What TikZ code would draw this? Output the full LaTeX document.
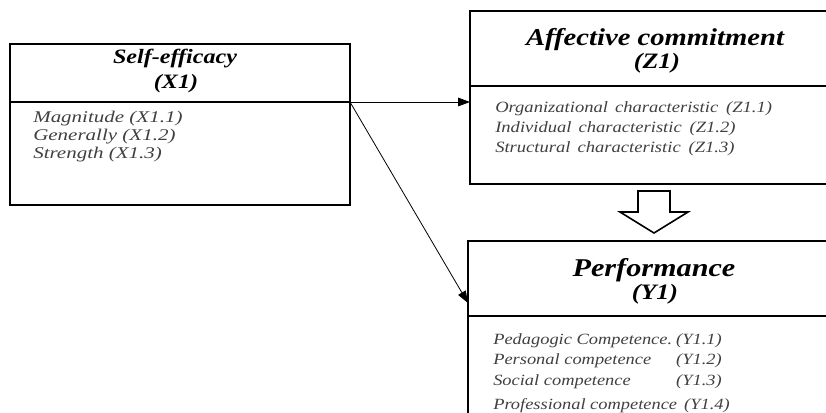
\documentclass[tikz,border=0pt]{standalone}
\usepackage{fontspec}
\setmainfont{Liberation Serif}
\newfontfamily\widefont[FakeStretch=1.18]{Liberation Serif}
\newfontfamily\widerfont[FakeStretch=1.28]{Liberation Serif}
\usetikzlibrary{arrows.meta}
\definecolor{bodygray}{gray}{0.25}
\tikzset{
  px/.style={x=0.75pt,y=-0.75pt},
  boxframe/.style={draw,line width=1.4pt,inner sep=0pt,outer sep=0pt,anchor=north west},
  divider/.style={line width=1.4pt},
  conn/.style={line width=0.6pt,-{Triangle[length=9pt,width=6.5pt]}},
  titleA/.style={anchor=base,inner sep=0pt,font=\widefont\fontsize{18.2pt}{22pt}\selectfont\bfseries\itshape},
  titleP/.style={anchor=base,inner sep=0pt,font=\widefont\fontsize{19.2pt}{22pt}\selectfont\bfseries\itshape},
  titleB/.style={anchor=base,inner sep=0pt,font=\widefont\fontsize{15.3pt}{17pt}\selectfont\bfseries\itshape},
  titleZ/.style={anchor=base,inner sep=0pt,font=\widefont\fontsize{16.5pt}{18pt}\selectfont\bfseries\itshape},
  bodytxt/.style={anchor=base west,inner sep=0pt,text=bodygray,font=\widefont\fontsize{11.7pt}{14pt}\selectfont\itshape},
  bodyref/.style={anchor=base east,inner sep=0pt,text=bodygray,font=\widefont\fontsize{11.7pt}{14pt}\selectfont\itshape},
  bodytxtS/.style={anchor=base west,inner sep=0pt,text=bodygray,font=\widerfont\fontsize{12.3pt}{14pt}\selectfont\itshape},
  bodytxtL/.style={anchor=base west,inner sep=0pt,text=bodygray,font=\widefont\fontsize{11.8pt}{14pt}\selectfont\itshape},
  hollowarrow/.style={draw,line width=1.2pt,fill=white,line join=miter}
}
\begin{document}
\begin{tikzpicture}[px]
\useasboundingbox (0,0) rectangle (826,412);
\clip (0,0) rectangle (826,412);
% Self-efficacy box
\node[boxframe,minimum width=255pt,minimum height=120.75pt] (se) at (10,44) {};
\draw[divider] (10,102) -- (350,102);
\node[titleB] (set) at (175,63) {Self-efficacy};
\node[titleB] (sex) at (176,88) {(X1)};
\node[bodytxtS] (se1) at (33,122) {Magnitude (X1.1)};
\node[bodytxtS] (se2) at (33,140) {Generally (X1.2)};
\node[bodytxtS] (se3) at (33,158) {Strength (X1.3)};
% Affective commitment box
\node[boxframe,minimum width=277.5pt,minimum height=129.75pt] (ac) at (470,11) {};
\draw[divider] (470,86) -- (840,86);
\node[titleA] (act) at (655,45) {Affective commitment};
\node[titleZ] (acz) at (657,68) {(Z1)};
\node[bodytxtL] (ac1) at (495,112) {Organizational\hspace{0.45em}characteristic\hspace{0.5em}(Z1.1)};
\node[bodytxtL] (ac2) at (495,132) {Individual\hspace{0.45em}characteristic\hspace{0.5em}(Z1.2)};
\node[bodytxtL] (ac3) at (495,152) {Structural\hspace{0.45em}characteristic\hspace{0.5em}(Z1.3)};
% Performance box
\node[boxframe,minimum width=279pt,minimum height=141.75pt] (pf) at (468,241) {};
\draw[divider] (468,316) -- (840,316);
\node[titleP] (pft) at (654,276) {Performance};
\node[titleZ] (pfy) at (655,299) {(Y1)};
\node[bodytxt] (pf1) at (493,344) {Pedagogic Competence.};
\node[bodyref] (pf1c) at (722,344) {(Y1.1)};
\node[bodytxt] (pf2) at (493,364) {Personal competence};
\node[bodyref] (pf2c) at (722,364) {(Y1.2)};
\node[bodytxt] (pf3) at (493,385) {Social competence};
\node[bodyref] (pf3c) at (722,385) {(Y1.3)};
\node[bodytxt] (pf4) at (493,409) {Professional competence};
\node[bodyref] (pf4c) at (730,409) {(Y1.4)};
% connectors
\coordinate (src) at (350,102);
\coordinate (acin) at (470,102);
\coordinate (pfin) at (468,303);
\draw[conn] (src) -- (acin);
\draw[conn] (src) -- (pfin);
% hollow block arrow
\draw[hollowarrow] (638,191) -- (670,191) -- (670,212) -- (688,212) -- (654,233) -- (620,212) -- (638,212) -- cycle;
\end{tikzpicture}
\end{document}
